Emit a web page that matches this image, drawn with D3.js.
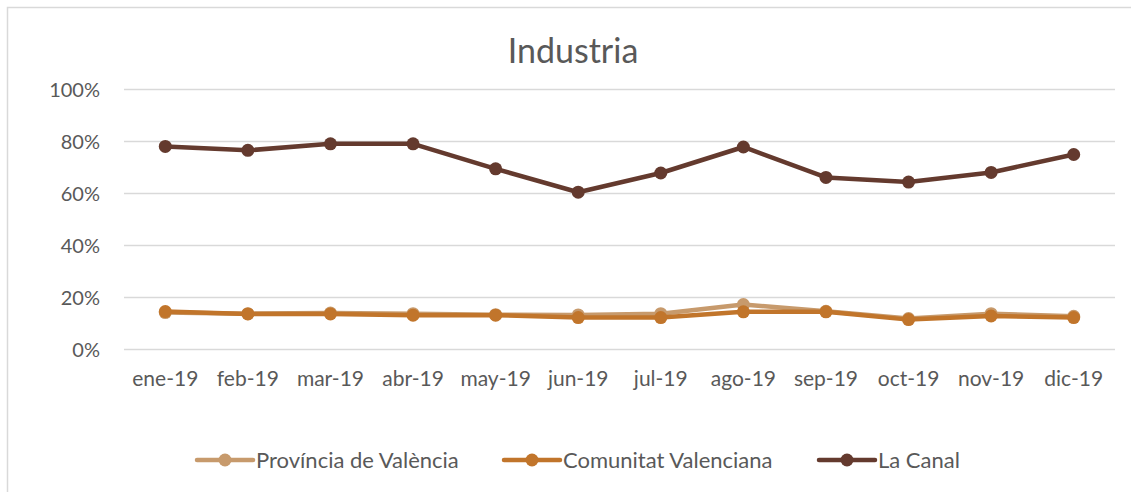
<!DOCTYPE html>
<html>
<head>
<meta charset="utf-8">
<script src="https://cdn.jsdelivr.net/npm/d3@7"></script>
<style>
  body { margin: 0; background: #fff; }
  text { font-family: Lato, "Open Sans", sans-serif; fill: #595959; }
</style>
</head>
<body>
<div id="chart"></div>
<script>
// data
const months = ["ene-19", "feb-19", "mar-19", "abr-19", "may-19", "jun-19",
    "jul-19", "ago-19", "sep-19", "oct-19", "nov-19", "dic-19"]
const provincia = [14.0, 13.6, 13.8, 13.6, 13.2, 13.1, 13.6, 17.1, 14.5, 11.7, 13.6, 12.6]
const comunitat = [14.4, 13.5, 13.5, 13.0, 13.0, 12.1, 12.1, 14.3, 14.3, 11.3, 12.7, 12.1]
const laCanal = [77.9, 76.4, 78.9, 78.9, 69.3, 60.3, 67.7, 77.7, 66.0, 64.2, 67.9, 74.8]
const yTicks = [0, 20, 40, 60, 80, 100]

const series = [
    { name: "Província de València", values: provincia, color: "#C79A6C" },
    { name: "Comunitat Valenciana", values: comunitat, color: "#C1752B" },
    { name: "La Canal", values: laCanal, color: "#643A2E" }
]

const W = 1131, H = 492
const margin = { top: 89, left: 124, right: 16, bottom: 143 }
const width = W - margin.left - margin.right,
    height = H - margin.top - margin.bottom

const svg = d3.select("#chart").append("svg")
    .attr("width", W)
    .attr("height", H)

// chart frame (only top and left edges fall inside the picture)
svg.append("rect")
    .attr("x", 7.5).attr("y", 7.5)
    .attr("width", W + 20).attr("height", H + 20)
    .attr("fill", "none")
    .attr("stroke", "#D9D9D9")
    .attr("stroke-width", 1.5)

svg.append("text")
    .attr("x", 573).attr("y", 63)
    .attr("text-anchor", "middle")
    .style("font-size", "34px")
    .text("Industria")

const g = svg.append("g")
    .attr("transform", `translate(${margin.left},${margin.top})`)

const x = d3.scaleBand().domain(months).range([0, width])
const y = d3.scaleLinear().domain([0, 100]).range([height, 0])

// gridlines + y labels
const yAxis = g.append("g")
    .call(d3.axisLeft(y).tickValues(yTicks).tickSize(-width).tickPadding(24)
        .tickFormat(d => d + "%"))
yAxis.select(".domain").remove()
yAxis.selectAll(".tick line").attr("stroke", "#D9D9D9").attr("stroke-width", 1.5)
yAxis.selectAll(".tick text").style("font-size", "20px").attr("dy", "0.35em")

// x labels
const xAxis = g.append("g")
    .attr("transform", `translate(0,${height})`)
    .call(d3.axisBottom(x).tickSize(0).tickPadding(22))
xAxis.select(".domain").remove()
xAxis.selectAll(".tick text").style("font-size", "21px")

const line = d3.line()
    .x((d, i) => x(months[i]) + x.bandwidth() / 2)
    .y(d => y(d))

series.forEach(s => {
    const sg = g.append("g")
    sg.append("path")
        .datum(s.values)
        .attr("d", line)
        .attr("fill", "none")
        .attr("stroke", s.color)
        .attr("stroke-width", 4.5)
        .attr("stroke-linejoin", "round")
    sg.selectAll("circle")
        .data(s.values)
        .join("circle")
        .attr("cx", (d, i) => x(months[i]) + x.bandwidth() / 2)
        .attr("cy", d => y(d))
        .attr("r", 6.5)
        .attr("fill", s.color)
})

// legend
const legendX = [197, 504, 819]
const legend = svg.append("g").attr("transform", "translate(0,460)")
series.forEach((s, i) => {
    const lg = legend.append("g").attr("transform", `translate(${legendX[i]},0)`)
    lg.append("line")
        .attr("x1", 0).attr("x2", 56)
        .attr("stroke", s.color)
        .attr("stroke-width", 4.5)
        .attr("stroke-linecap", "round")
    lg.append("circle").attr("cx", 28).attr("r", 6.5).attr("fill", s.color)
    lg.append("text")
        .attr("x", 59).attr("dy", "0.35em")
        .style("font-size", "22px")
        .text(s.name)
})
</script>
</body>
</html>
